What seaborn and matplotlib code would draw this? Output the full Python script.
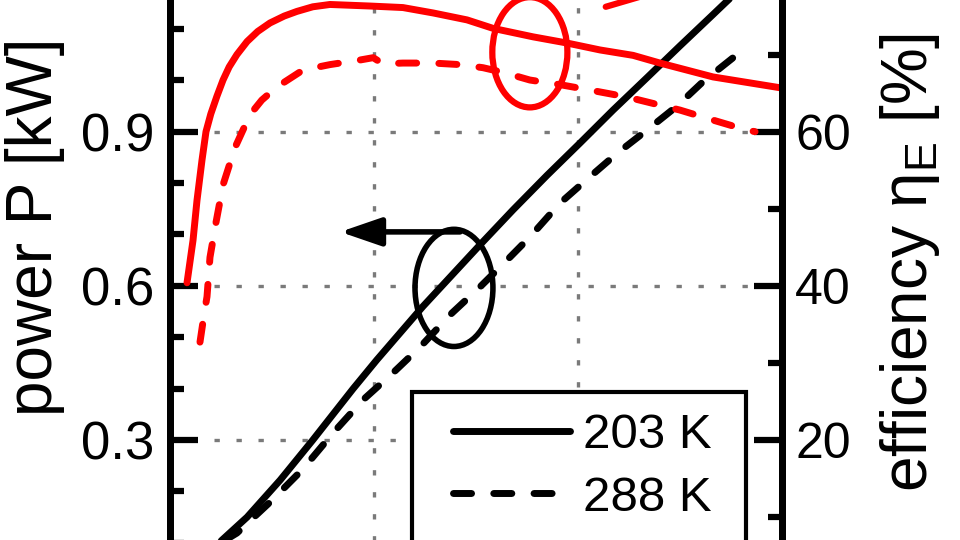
import matplotlib
matplotlib.use("Agg")
import matplotlib.pyplot as plt
from matplotlib.lines import Line2D
from matplotlib.patches import Ellipse, Rectangle
from matplotlib.ticker import MultipleLocator
import seaborn as sns

# output power P [kW] vs current [A]
current_p203 = [100, 127, 189, 270, 350, 449, 507, 620, 760, 841, 924, 1005,
                1086, 1169, 1250, 1331, 1360, 1400]
power_203 = [0.082, 0.105, 0.150, 0.222, 0.300, 0.400, 0.456, 0.560, 0.680,
             0.748, 0.815, 0.878, 0.942, 1.005, 1.067, 1.128, 1.150, 1.18]

current_p288 = [100, 135, 164, 245, 324, 400, 473, 547, 613, 691, 760, 826, 882,
                956, 1029, 1096, 1169, 1243, 1306, 1404]
power_288 = [0.078, 0.105, 0.119, 0.179, 0.242, 0.314, 0.378, 0.431, 0.481, 0.547,
             0.598, 0.650, 0.695, 0.761, 0.812, 0.858, 0.903, 0.950, 0.997, 1.059]

# efficiency eta_E [%] vs current [A]
current_e203 = [41.7, 56.4, 66.2, 78.4, 88.2, 100, 115, 130, 145, 164, 189, 215,
                245, 280, 311, 350, 392, 490, 571, 645, 728, 792, 890, 973, 1054,
                1135, 1201, 1331, 1495]
eff_203 = [40.4, 45.9, 51.1, 56.3, 60.0, 62.3, 64.6, 66.7, 68.4, 70.0, 71.7, 73.0,
           74.1, 75.0, 75.6, 76.2, 76.5, 76.3, 76.1, 75.4, 74.5, 73.4, 72.3, 71.5,
           70.6, 69.9, 68.9, 67.1, 65.7]

current_e288 = [73.5, 83.3, 90.7, 98, 113, 130, 159, 196, 225, 262, 326, 392, 466,
                498, 522, 571, 645, 711, 767, 816, 882, 956, 1029, 1120, 1250, 1331,
                1414, 1434]
eff_288 = [32.7, 36.2, 38.6, 43.7, 48.3, 53.1, 57.9, 62.2, 64.1, 65.8, 68.0, 68.7,
           69.3, 69.6, 68.8, 68.9, 68.9, 68.7, 68.3, 67.7, 66.7, 66.1, 65.4, 64.5,
           62.8, 61.5, 60.2, 60.0]

labels = ["203 K", "288 K"]
power_ticks = [0.3, 0.6, 0.9]
eff_ticks = [20, 40, 60]
current_ticks = [0, 500, 1000, 1500]

sns.set_theme(style="ticks")
plt.rcParams["font.family"] = ["Liberation Sans", "DejaVu Sans"]
plt.rcParams["mathtext.default"] = "regular"
plt.rcParams["text.color"] = "black"
plt.rcParams["axes.labelcolor"] = "black"
plt.rcParams["xtick.color"] = "black"
plt.rcParams["ytick.color"] = "black"

DASH = (0, (2.6, 3.2))

fig = plt.figure(figsize=(9.6, 5.4), dpi=100)
ax = fig.add_axes([170 / 960, -54.2 / 540, 612 / 960, 616.7 / 540])
ax2 = ax.twinx()

# power (left axis)
sns.lineplot(x=current_p203, y=power_203, ax=ax, color="black", lw=5,
             solid_capstyle="round", zorder=4)
sns.lineplot(x=current_p288, y=power_288, ax=ax, color="black", lw=5,
             linestyle=DASH, dash_capstyle="round", zorder=4)

# efficiency (right axis)
sns.lineplot(x=current_e203, y=eff_203, ax=ax2, color="red", lw=5,
             solid_capstyle="round", sort=False)
sns.lineplot(x=current_e288, y=eff_288, ax=ax2, color="red", lw=5,
             linestyle=DASH, dash_capstyle="round", sort=False)

ax.set_xlim(0, 1500)
ax.set_ylim(0, 1.2)
ax2.set_ylim(0, 80)
ax.set_xticks(current_ticks)
ax.set_yticks(power_ticks)
ax.set_yticklabels([f"{v:.1f}" for v in power_ticks])
ax2.set_yticks(eff_ticks)
ax.yaxis.set_minor_locator(MultipleLocator(0.1))
ax2.yaxis.set_minor_locator(MultipleLocator(10))

ax.grid(True, which="major", color="#7a7a7a", lw=2.4, linestyle=(0, (1.6, 5.0)))
ax2.grid(False)

for a in (ax, ax2):
    for sp in a.spines.values():
        sp.set_linewidth(5)
        sp.set_color("black")

ax.tick_params(axis="y", which="major", direction="in", length=20, width=4.5,
               labelsize=38, pad=11, left=True, right=False)
ax.tick_params(axis="y", which="minor", direction="in", length=10, width=4.5,
               left=True, right=False)
ax.tick_params(axis="x", direction="in", length=20, width=4, labelbottom=False)
ax2.tick_params(axis="y", which="major", direction="in", length=20, width=4.5,
                labelsize=36, pad=9.5, right=True, left=False)
ax2.tick_params(axis="y", which="minor", direction="in", length=10, width=4.5,
                right=True, left=False)
ax.set_xlabel("")
ax.set_ylabel("")
ax2.set_ylabel("")

fig.text(35 / 960, 1 - 226.5 / 540, "power P [kW]", rotation=90,
         ha="center", va="center", fontsize=46)
fig.text(910 / 960, 1 - 262.5 / 540, "efficiency η$_\\mathregular{E}$ [%]",
         rotation=90, ha="center", va="center", fontsize=46)

# annotation: ellipses and arrows
ax.add_patch(Ellipse((696, 0.596), 191, 0.228, fill=False, edgecolor="black",
                     lw=4, zorder=4))
ax.annotate("", xy=(417, 0.705), xytext=(711, 0.705),
            arrowprops=dict(arrowstyle="-|>,head_length=1.25,head_width=0.43",
                            mutation_scale=20, lw=4, color="black",
                            shrinkA=0, shrinkB=0))
ax2.add_patch(Ellipse((882, 70.3), 184, 14.3, fill=False, edgecolor="red", lw=4.5))
ax2.annotate("", xy=(1300, 79.8), xytext=(1068, 76.2), annotation_clip=False,
             arrowprops=dict(arrowstyle="-|>", mutation_scale=20, lw=4.5,
                             color="red", shrinkA=0, shrinkB=0))

# legend with its box
ax.add_patch(Rectangle((412 / 960, -0.05), (746 - 412) / 960, 148 / 540 + 0.05,
                       transform=fig.transFigure, facecolor="white",
                       edgecolor="black", lw=3, zorder=5, clip_on=False))
handles = [Line2D([], [], color="black", lw=5, solid_capstyle="round"),
           Line2D([], [], color="black", lw=5, linestyle=DASH, dash_capstyle="round")]
leg = ax.legend(handles, labels, loc="upper left",
                bbox_to_anchor=(453 / 960, (540 - 413) / 540),
                bbox_transform=fig.transFigure, frameon=False, borderpad=0,
                borderaxespad=0, fontsize=35.5, handlelength=2.37,
                handletextpad=0.26, labelspacing=0.36)
leg.set_zorder(6)

fig.savefig("out.png", dpi=100)
